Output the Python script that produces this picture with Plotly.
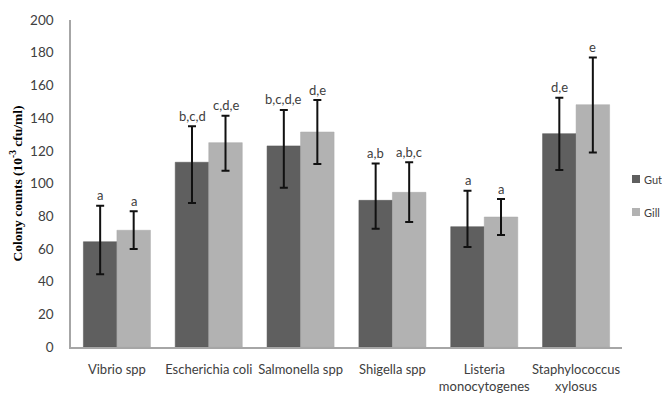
import plotly.graph_objects as go

categories = ["Vibrio spp", "Escherichia coli", "Salmonella spp", "Shigella spp",
              "Listeria<br>monocytogenes", "Staphylococcus<br>xylosus"]
gut_values = [64.4, 113.0, 123.0, 89.7, 73.6, 130.5]
gut_err_plus = [22.0, 22.0, 22.0, 22.6, 22.0, 22.0]
gut_err_minus = [19.9, 25.0, 25.6, 17.3, 12.4, 22.2]
gill_values = [71.4, 125.0, 131.5, 94.6, 79.5, 148.2]
gill_err_plus = [11.6, 16.5, 19.5, 18.4, 11.0, 28.8]
gill_err_minus = [11.4, 17.2, 19.5, 18.1, 11.0, 29.2]
gut_letters = ["a", "b,c,d", "b,c,d,e", "a,b", "a", "d,e"]
gill_letters = ["a", "c,d,e", "d,e", "a,b,c", "a", "e"]
series_names = ["Gut", "Gill"]
series_colors = ["#5f5f5f", "#b2b2b2"]
y_ticks = [0, 20, 40, 60, 80, 100, 120, 140, 160, 180, 200]

FONT = "Lato"
TXT = "#404040"

fig = go.Figure()
fig.add_trace(go.Bar(
    name=series_names[0], x=categories, y=gut_values,
    marker=dict(color=series_colors[0], line=dict(color="#555555", width=0.5)),
    error_y=dict(type="data", symmetric=False, array=gut_err_plus,
                 arrayminus=gut_err_minus, color="#111111", thickness=2, width=4),
))
fig.add_trace(go.Bar(
    name=series_names[1], x=categories, y=gill_values,
    marker=dict(color=series_colors[1], line=dict(color="#a8a8a8", width=0.5)),
    error_y=dict(type="data", symmetric=False, array=gill_err_plus,
                 arrayminus=gill_err_minus, color="#111111", thickness=2, width=4),
))

annotations = []
for i, cat in enumerate(categories):
    annotations.append(dict(x=cat, y=gut_values[i] + gut_err_plus[i], xref="x", yref="y",
                            text=gut_letters[i], showarrow=False, xshift=-16.75, yshift=10.5,
                            yanchor="middle", font=dict(family=FONT, size=13, color=TXT)))
    annotations.append(dict(x=cat, y=gill_values[i] + gill_err_plus[i], xref="x", yref="y",
                            text=gill_letters[i], showarrow=False, xshift=16.75, yshift=10.5,
                            yanchor="middle", font=dict(family=FONT, size=13, color=TXT)))

# page is offset by the 8px body margin; plot area spans x 71..622 and y 20..347 on screen
PW, PH = 551.0, 327.0
def px(sx):
    return (sx - 71) / PW
def py(sy):
    return (347 - sy) / PH

shapes = []
legend_y = [179, 212]
for name, col, ly in zip(series_names, series_colors, legend_y):
    shapes.append(dict(type="rect", xref="paper", yref="paper",
                       x0=px(632), x1=px(640), y0=py(ly + 4), y1=py(ly - 4),
                       fillcolor=col, line=dict(width=0)))
    annotations.append(dict(x=px(642), y=py(ly), xref="paper", yref="paper", text=name,
                            showarrow=False, xanchor="left", yanchor="middle",
                            font=dict(family=FONT, size=11, color=TXT)))

fig.update_layout(
    width=662, height=388,
    margin=dict(l=63, r=48, t=12, b=49, autoexpand=False),
    paper_bgcolor="white", plot_bgcolor="white",
    barmode="group", bargap=0.27, bargroupgap=0,
    font=dict(family=FONT, size=13, color=TXT),
    showlegend=False,
    xaxis=dict(showline=True, linecolor="#a6a6a6", linewidth=1.5, ticks="",
               showgrid=False, tickfont=dict(family=FONT, size=13, color=TXT),
               tickangle=0, ticklabelstandoff=10),
    yaxis=dict(range=[0, 200], tickvals=y_ticks, showline=True, linecolor="#a6a6a6",
               linewidth=1.5, ticks="", showgrid=False, zeroline=False,
               tickfont=dict(family=FONT, size=13.5, color=TXT), ticklabelstandoff=13,
               title=dict(text="<b>Colony counts (10<sup>-3</sup> cfu/ml)</b>",
                          font=dict(family="Liberation Serif", size=13.5, color="#000000"),
                          standoff=12)),
    annotations=annotations,
    shapes=shapes,
)

fig.write_html("out.html")
